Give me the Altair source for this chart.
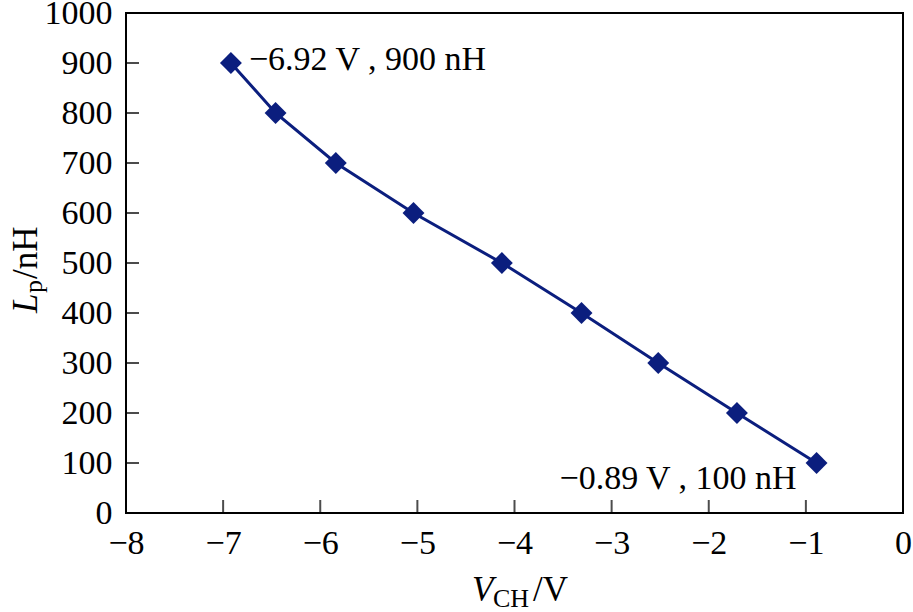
import altair as alt
import pandas as pd

# Data
vch = [-6.92, -6.46, -5.84, -5.04, -4.13, -3.31, -2.52, -1.71, -0.89]
lp = [900, 800, 700, 600, 500, 400, 300, 200, 100]

x_ticks = [-7, -6, -5, -4, -3, -2, -1]
y_ticks = [100, 200, 300, 400, 500, 600, 700, 800, 900]
x_labels = [-8, -7, -6, -5, -4, -3, -2, -1, 0]
y_labels = [0, 100, 200, 300, 400, 500, 600, 700, 800, 900, 1000]

ann_text = ["\u22126.92 V , 900 nH", "\u22120.89 V , 100 nH"]
ann_x = [-6.92, -0.89]
ann_y = [900, 100]

FONT = "Liberation Serif"
NAVY = "#0b1e7e"
LBL = 34

df = pd.DataFrame({"vch": vch, "lp": lp})
xt = pd.DataFrame({"v": x_ticks})
yt = pd.DataFrame({"v": y_ticks})

xscale = alt.Scale(domain=[-8, 0], nice=False, zero=False)
yscale = alt.Scale(domain=[0, 1000], nice=False)

xaxis = alt.Axis(values=x_labels, format="d", title=None, grid=False,
                 domain=False, ticks=False, labelFont=FONT, labelFontSize=LBL,
                 labelColor="black", labelPadding=13, labelFlush=False)
yaxis = alt.Axis(values=y_labels, format="d", title=None, grid=False,
                 domain=False, ticks=False, labelFont=FONT, labelFontSize=LBL,
                 labelColor="black", labelPadding=14, labelFlush=False)

base = alt.Chart(df)

line = base.mark_line(color=NAVY, strokeWidth=3).encode(
    x=alt.X("vch:Q", scale=xscale, axis=xaxis),
    y=alt.Y("lp:Q", scale=yscale, axis=yaxis),
)
pts = base.mark_point(shape="diamond", filled=True, size=480, color=NAVY, opacity=1).encode(
    x=alt.X("vch:Q", scale=xscale),
    y=alt.Y("lp:Q", scale=yscale),
)

ytick_marks = alt.Chart(yt).mark_tick(orient="horizontal", color="black", size=13,
                                      thickness=2, xOffset=6.5).encode(
    x=alt.datum(-8, scale=xscale),
    y=alt.Y("v:Q", scale=yscale),
)
xtick_marks = alt.Chart(xt).mark_tick(orient="vertical", color="black", size=13,
                                      thickness=2, yOffset=-6.5).encode(
    x=alt.X("v:Q", scale=xscale),
    y=alt.datum(0, scale=yscale),
)

ann_df = pd.DataFrame({"t": ann_text, "x": ann_x, "y": ann_y})
ann1 = alt.Chart(ann_df.iloc[[0]]).mark_text(font=FONT, fontSize=34, align="left",
                                             baseline="middle", dx=18, dy=-3,
                                             color="black").encode(
    x=alt.X("x:Q", scale=xscale), y=alt.Y("y:Q", scale=yscale), text="t:N")
ann2 = alt.Chart(ann_df.iloc[[1]]).mark_text(font=FONT, fontSize=34, align="right",
                                             baseline="middle", dx=-20, dy=16,
                                             color="black").encode(
    x=alt.X("x:Q", scale=xscale), y=alt.Y("y:Q", scale=yscale), text="t:N")

# Axis titles with italic letter and subscripts
def txt(s, x, y, size=34, italic=False, angle=0):
    return alt.Chart(pd.DataFrame({"s": [s]})).mark_text(
        font=FONT, fontSize=size, fontStyle="italic" if italic else "normal",
        align="left", baseline="alphabetic", angle=angle, color="black",
    ).encode(x=alt.value(x), y=alt.value(y), text="s:N")

xt1 = txt("V", 346, 588, size=35, italic=True)
xt2 = txt("CH", 367, 594, size=26)
xt3 = txt("/V", 407, 588, size=35)

yt1 = txt("L", -89, 300, size=35, italic=True, angle=270)
yt2 = txt("p", -84, 280, size=26, angle=270)
yt3 = txt("/nH", -89, 266, size=35, angle=270)

chart = alt.layer(line, pts, ytick_marks, xtick_marks, ann1, ann2,
                  xt1, xt2, xt3, yt1, yt2, yt3).properties(
    width=777, height=500,
    padding={"left": 126, "top": 13, "right": 10, "bottom": 99},
    autosize=alt.AutoSizeParams(type="none"),
    background="white",
).configure_view(stroke="black", strokeWidth=2)

chart.save("out.html", embed_options={"renderer": "svg", "actions": False})
